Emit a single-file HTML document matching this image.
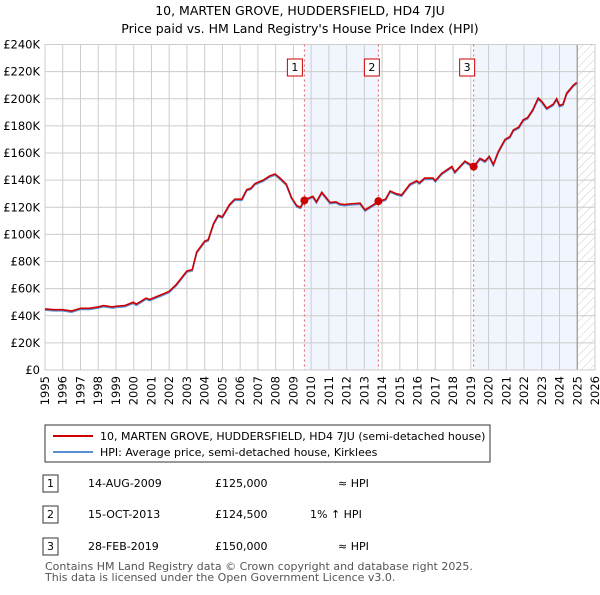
<!DOCTYPE html>
<html><head><meta charset="utf-8"><style>
body{margin:0;background:#fff;font-family:"Liberation Sans","DejaVu Sans",sans-serif;}
svg text{font-family:"DejaVu Sans","Liberation Sans",sans-serif;}
</style></head><body>
<svg id="c" width="600" height="590" xmlns="http://www.w3.org/2000/svg">
<defs><pattern id="hatch" width="6" height="6" patternUnits="userSpaceOnUse" patternTransform="rotate(45)"><line x1="0" y1="0" x2="0" y2="6" stroke="#ccc" stroke-width="1"/></pattern></defs>
<text x="300" y="15" text-anchor="middle" font-size="12.5">10, MARTEN GROVE, HUDDERSFIELD, HD4 7JU</text>
<text x="300" y="33" text-anchor="middle" font-size="12.5">Price paid vs. HM Land Registry's House Price Index (HPI)</text>
<g id="plot"></g>
<g>
<rect x="45" y="425" width="445" height="37" fill="#fff" stroke="#333"/>
<line x1="53" y1="436" x2="93" y2="436" stroke="#cc0000" stroke-width="2"/>
<text x="100" y="440" font-size="11">10, MARTEN GROVE, HUDDERSFIELD, HD4 7JU (semi-detached house)</text>
<line x1="53" y1="452" x2="93" y2="452" stroke="#5b8fd4" stroke-width="2"/>
<text x="100" y="456" font-size="11">HPI: Average price, semi-detached house, Kirklees</text>
</g>
<g font-size="11">
<rect x="43" y="475" width="15" height="17" fill="#fff" stroke="#333"/><text x="50.5" y="487" text-anchor="middle">1</text>
<text x="88" y="487">14-AUG-2009</text><text x="215" y="487">£125,000</text><text x="338" y="487">≈ HPI</text>
<rect x="43" y="506" width="15" height="17" fill="#fff" stroke="#333"/><text x="50.5" y="518" text-anchor="middle">2</text>
<text x="88" y="518">15-OCT-2013</text><text x="215" y="518">£124,500</text><text x="310" y="518">1% ↑ HPI</text>
<rect x="43" y="538" width="15" height="17" fill="#fff" stroke="#333"/><text x="50.5" y="550" text-anchor="middle">3</text>
<text x="88" y="550">28-FEB-2019</text><text x="215" y="550">£150,000</text><text x="338" y="550">≈ HPI</text>
</g>
<text x="45" y="570" font-size="11" fill="#555">Contains HM Land Registry data © Crown copyright and database right 2025.</text>
<text x="45" y="581" font-size="11" fill="#555">This data is licensed under the Open Government Licence v3.0.</text>
</svg>
<script>
const years=[1995,1995.5,1996,1996.5,1997,1997.5,1998,1998.3,1998.8,1999,1999.5,1999.97,2000.15,2000.7,2000.9,2001.65,2002,2002.4,2003,2003.3,2003.55,2004,2004.2,2004.5,2004.76,2005,2005.4,2005.7,2006.1,2006.37,2006.6,2006.84,2007.3,2007.65,2007.96,2008.2,2008.6,2008.9,2009.2,2009.4,2009.62,2010.1,2010.3,2010.6,2011.07,2011.4,2011.6,2011.9,2012.2,2012.76,2013.04,2013.79,2014.2,2014.45,2014.8,2015.1,2015.57,2015.95,2016.1,2016.4,2016.87,2017.0,2017.36,2017.93,2018.1,2018.67,2019.16,2019.52,2019.8,2020.04,2020.27,2020.55,2020.93,2021.2,2021.4,2021.7,2021.96,2022.2,2022.5,2022.8,2023.0,2023.28,2023.65,2023.84,2024.0,2024.2,2024.4,2024.78,2024.97];
const prices=[45,44.5,44.5,43.5,45.5,45.5,46.5,47.5,46.5,47,47.5,50,48.5,53,52,56,58,63,73,74,87,95,96,108,114,113,122,126,126,133,134,137.5,140,143,144.5,142,137,127,121,120,125.5,128,124,131,123.5,124,122.5,122,122.5,123,118,124.2,126,132,130,129,137,139.5,138,141.5,141.5,139.5,145,150,146,154,150,156,154,157.5,151.5,161,170,172,177,179,184.5,186,192,200.5,198,193,196,200,195,196,204,210,212];
const sales=[[2009.62,125],[2013.79,124.5],[2019.16,150]];
const yTicks=[0,20,40,60,80,100,120,140,160,180,200,220,240];
const xTicks=[1995,1996,1997,1998,1999,2000,2001,2002,2003,2004,2005,2006,2007,2008,2009,2010,2011,2012,2013,2014,2015,2016,2017,2018,2019,2020,2021,2022,2023,2024,2025,2026];
const L=45,R=595,T=44.5,B=370,x0=1995,x1=2026,yMax=240,dataEnd=2025.0;
const X=v=>L+(v-x0)/(x1-x0)*(R-L), Y=v=>B-v/yMax*(B-T);
const g=document.getElementById('plot'),NS='http://www.w3.org/2000/svg';
function el(t,a){const e=document.createElementNS(NS,t);for(const k in a)e.setAttribute(k,a[k]);g.appendChild(e);return e;}
let e;
e=el('rect',{x:X(sales[0][0]),y:T,width:X(sales[1][0])-X(sales[0][0]),height:B-T,fill:'#eef2fc',opacity:0.8});


e=el('rect',{x:X(sales[2][0]),y:T,width:X(dataEnd)-X(sales[2][0]),height:B-T,fill:'#eef2fc',opacity:0.8});


e=el('rect',{x:X(dataEnd),y:T,width:R-X(dataEnd),height:B-T,fill:'url(#hatch)'});


yTicks.forEach(v=>{
 e=el('line',{x1:L,x2:R,y1:Y(v),y2:Y(v),stroke:'#ccc'});
 
 
 e=el('text',{x:L-5,y:Y(v)+4,'text-anchor':'end','font-size':'11.5'});e.textContent=v===0?'£0':'£'+v+'K';
 
 
});
xTicks.forEach(v=>{
 e=el('line',{x1:X(v),x2:X(v),y1:T,y2:B,stroke:'#ccc'});
 
 
 const tx=X(v)+4,ty=B+6;
 e=el('text',{x:tx,y:ty,'text-anchor':'end','font-size':'11.5',transform:'rotate(-90 '+tx+' '+ty+')'});e.textContent=v;
 
 
});
e=el('line',{x1:X(dataEnd),x2:X(dataEnd),y1:T,y2:B,stroke:'#999','stroke-width':1.2});


e=el('rect',{x:L,y:T,width:R-L,height:B-T,fill:'none',stroke:'#ccc'});


sales.forEach((s,i)=>{
 e=el('line',{x1:X(s[0]),x2:X(s[0]),y1:T,y2:B,stroke:'#e06060','stroke-dasharray':'2,3'});
 
 
 const bx=X(s[0])-(i===0?11:8);
 e=el('rect',{x:bx-6,y:59,width:15,height:17,fill:'#fff',stroke:'#cc0000'});
 
 
 e=el('text',{x:bx+1.5,y:71,'text-anchor':'middle','font-size':'11'});e.textContent=String(i+1);
 
 
});
const pts=years.map((yr,i)=>X(yr)+','+Y(prices[i])).join(' ');
const hpts=years.map((yr,i)=>X(yr)+','+(Y(prices[i])+1.2)).join(' ');
e=el('polyline',{points:hpts,fill:'none',stroke:'#5b8fd4','stroke-width':1.5});


e=el('polyline',{points:pts,fill:'none',stroke:'#cc0000','stroke-width':1.6});


sales.forEach(s=>{
 e=el('circle',{cx:X(s[0]),cy:Y(s[1]),r:4,fill:'#cc0000'});
 
 
});
</script>
</body></html>
